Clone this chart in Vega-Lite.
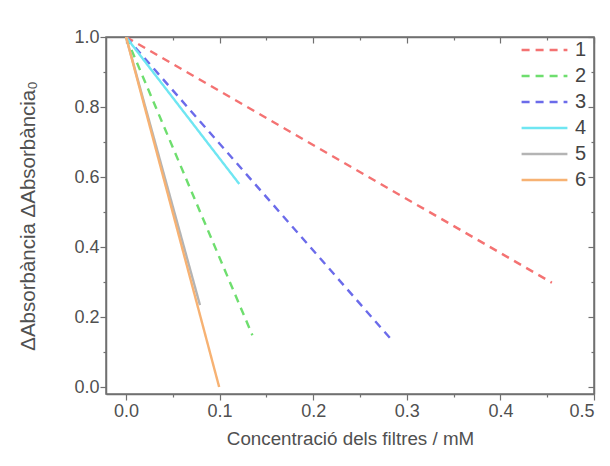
{
  "$schema": "https://vega.github.io/schema/vega-lite/v6.json",
  "width": 488,
  "height": 357,
  "autosize": "none",
  "padding": {"left": 106, "top": 37, "right": 16, "bottom": 72},
  "background": "white",
  "config": {
    "font": "Liberation Sans",
    "view": {"stroke": "#707070", "strokeWidth": 1.5},
    "axis": {"domainColor": "#707070", "domainWidth": 1.5, "tickColor": "#707070", "tickWidth": 1.2, "grid": false,
             "labelColor": "#505050", "labelFontSize": 18, "titleColor": "#505050", "titleFontSize": 18.8, "titleFontWeight": "normal", "labelFont": "Liberation Sans", "titleFont": "Liberation Sans"}
  },
  "data": {"values": [
    {"series": "1", "x": 0, "y": 1.0}, {"series": "1", "x": 0.455, "y": 0.298},
    {"series": "2", "x": 0, "y": 1.0}, {"series": "2", "x": 0.135, "y": 0.148},
    {"series": "3", "x": 0, "y": 1.0}, {"series": "3", "x": 0.284, "y": 0.134},
    {"series": "4", "x": 0, "y": 1.0}, {"series": "4", "x": 0.121, "y": 0.58},
    {"series": "5", "x": 0, "y": 1.0}, {"series": "5", "x": 0.079, "y": 0.234},
    {"series": "6", "x": 0, "y": 1.0}, {"series": "6", "x": 0.0995, "y": 0.0}
  ]},
  "resolve": {"axis": {"x": "independent", "y": "independent"}},
  "layer": [
    {
      "mark": {"type": "line", "strokeWidth": 2.4, "clip": true},
      "encoding": {
        "x": {"field": "x", "type": "quantitative", "scale": {"domain": [-0.0214, 0.5], "nice": false, "zero": false},
              "axis": {"orient": "bottom", "title": "Concentració dels filtres / mM", "titlePadding": 9,
                       "values": [0, 0.05, 0.1, 0.15, 0.2, 0.25, 0.3, 0.35, 0.4, 0.45, 0.5],
                       "labelExpr": "round(datum.value*100) % 10 == 0 ? format(datum.value, '.1f') : ''",
                       "labelOverlap": false, "labelPadding": 2,
                       "tickSize": {"condition": {"test": "round(datum.value*100) % 10 == 0", "value": 6}, "value": 3}}},
        "y": {"field": "y", "type": "quantitative", "scale": {"domain": [-0.02, 1.0], "nice": false, "zero": false},
              "axis": {"orient": "left", "title": "ΔAbsorbància ΔAbsorbància₀", "titlePadding": 35, "titleFontSize": 20.5,
                       "values": [0, 0.1, 0.2, 0.3, 0.4, 0.5, 0.6, 0.7, 0.8, 0.9, 1.0],
                       "labelExpr": "round(datum.value*10) % 2 == 0 ? format(datum.value, '.1f') : ''",
                       "labelOverlap": false, "labelPadding": 1,
                       "tickSize": {"condition": {"test": "round(datum.value*10) % 2 == 0", "value": 6}, "value": 3}}},
        "color": {"field": "series", "type": "nominal",
                  "scale": {"domain": ["1", "2", "3", "4", "5", "6"], "range": ["#f47272", "#6ede6e", "#6b6bea", "#6fe6f2", "#b4b4b4", "#f7b273"]},
                  "legend": {"orient": "none", "legendX": 414, "legendY": 0, "title": null, "symbolType": "stroke", "symbolSize": 2100, "symbolStrokeWidth": 2.4,
                             "labelFontSize": 20, "labelColor": "#444", "labelFont": "Liberation Sans", "clipHeight": 26, "rowPadding": 0, "labelOffset": 6, "padding": 0}},
        "strokeDash": {"field": "series", "type": "nominal",
                       "scale": {"domain": ["1", "2", "3", "4", "5", "6"], "range": [[8, 6], [8, 6], [8, 6], [1, 0], [1, 0], [1, 0]]},
                       "legend": {"orient": "none", "legendX": 414, "legendY": 0, "title": null, "symbolType": "stroke", "symbolSize": 2100, "symbolStrokeWidth": 2.4,
                             "labelFontSize": 20, "labelColor": "#444", "labelFont": "Liberation Sans", "clipHeight": 26, "rowPadding": 0, "labelOffset": 6, "padding": 0}}
      }
    },
    {
      "mark": {"type": "line", "opacity": 0},
      "encoding": {
        "detail": {"field": "series", "type": "nominal"},
        "x": {"field": "x", "type": "quantitative",
              "axis": {"orient": "top", "title": null, "labels": false, "values": [0, 0.05, 0.1, 0.15, 0.2, 0.25, 0.3, 0.35, 0.4, 0.45, 0.5],
                       "tickSize": {"condition": {"test": "round(datum.value*100) % 10 == 0", "value": -6}, "value": -3}}},
        "y": {"field": "y", "type": "quantitative",
              "axis": {"orient": "right", "title": null, "labels": false, "values": [0, 0.1, 0.2, 0.3, 0.4, 0.5, 0.6, 0.7, 0.8, 0.9, 1.0],
                       "tickSize": {"condition": {"test": "round(datum.value*10) % 2 == 0", "value": -6}, "value": -3}}}
      }
    }
  ]
}
